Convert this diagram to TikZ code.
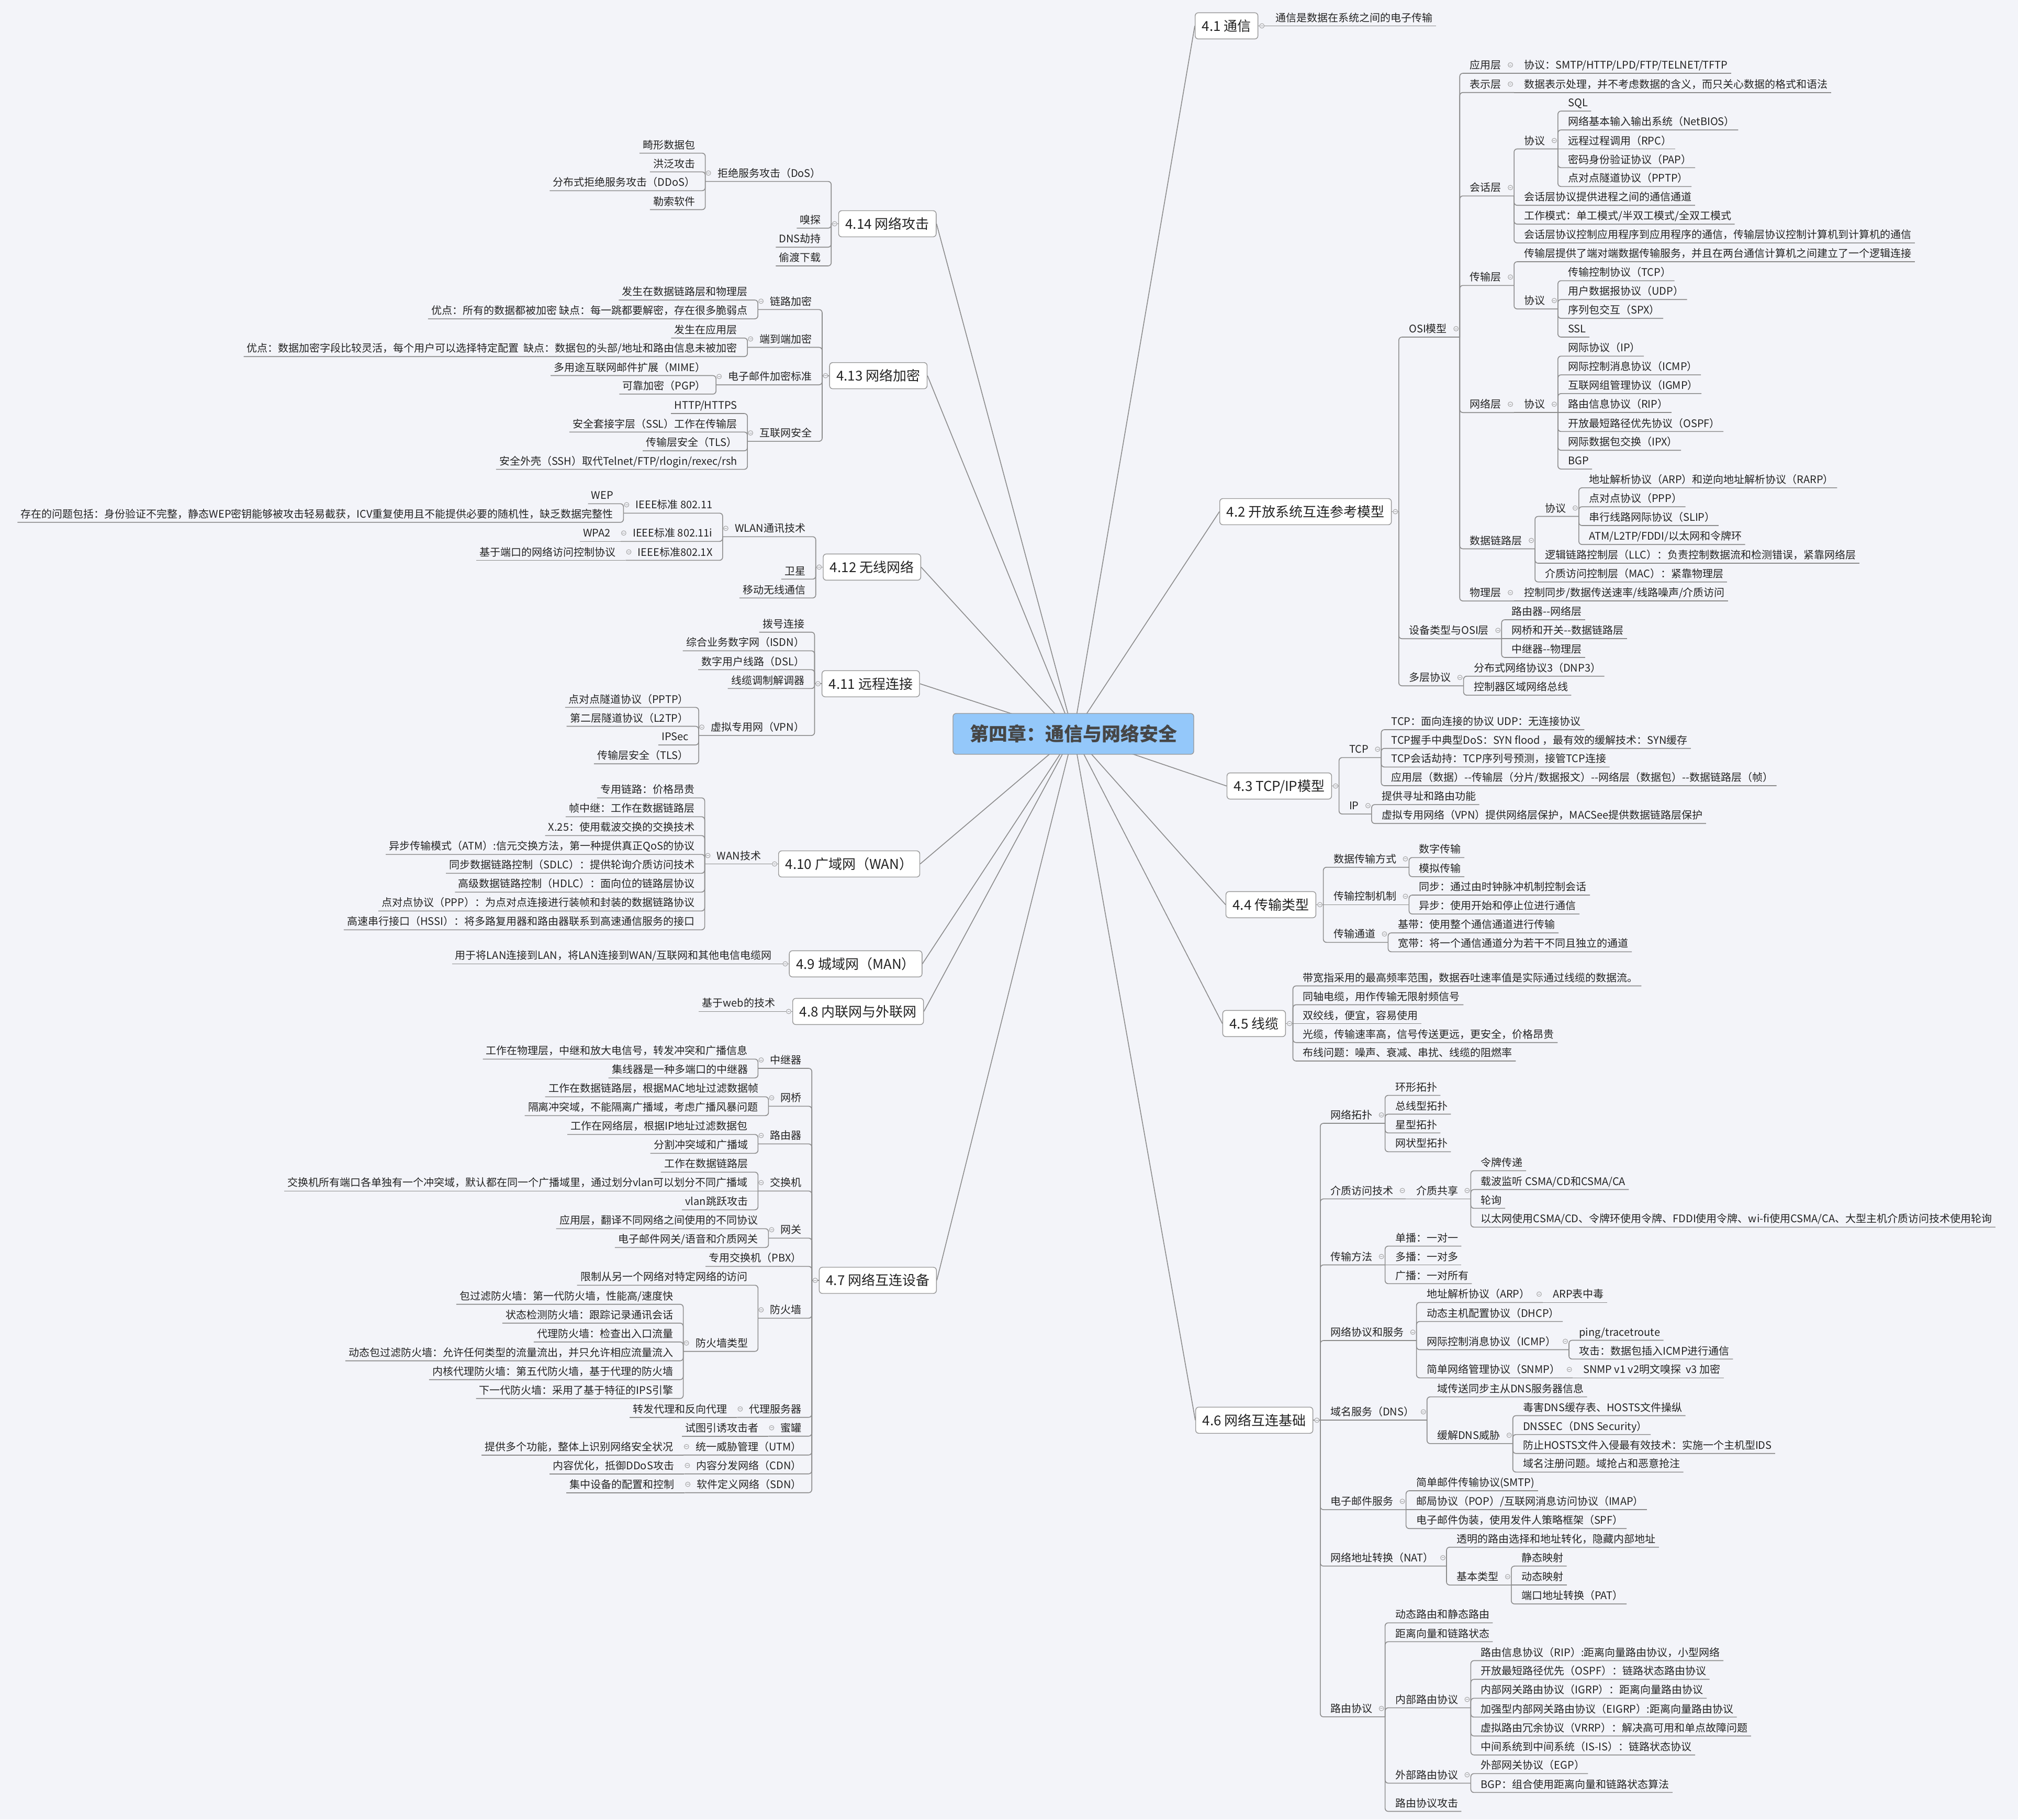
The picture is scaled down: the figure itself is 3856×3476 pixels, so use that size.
\documentclass[tikz,border=0pt]{standalone}
\usepackage{fontspec}
\setmainfont{Noto Sans CJK SC}
\usetikzlibrary{calc}
\pgfdeclarelayer{bg}
\pgfsetlayers{bg,main}
\definecolor{bgc}{RGB}{243,244,249}
\definecolor{lnc}{RGB}{140,140,140}
\definecolor{txc}{RGB}{35,35,35}
\definecolor{ttl}{RGB}{148,200,250}
\definecolor{ttx}{RGB}{70,70,70}
\definecolor{bxc}{RGB}{150,150,150}
\tikzset{
  ln/.style={draw=lnc,line width=0.8pt},
  leaf/.style={inner sep=0pt,text=txc,font=\fontsize{10pt}{12pt}\selectfont,text height=8.3pt,text depth=0.7pt},
  sec/.style={draw=bxc,line width=0.7pt,fill=white,rounded corners=3pt,inner xsep=6.5pt,inner ysep=0pt,minimum height=25pt,text=txc,font=\fontsize{13pt}{15pt}\selectfont,text height=10.8pt,text depth=0.9pt},
  ttlbox/.style={draw=bxc,line width=0.7pt,fill=ttl,rounded corners=3pt,inner xsep=16pt,inner ysep=0pt,minimum height=39pt,text=ttx,font=\fontsize{18pt}{22pt}\selectfont\bfseries,text height=15pt,text depth=1.3pt},
  circ/.style={draw=lnc!80,fill=bgc,line width=0.5pt},
  circm/.style={draw=lnc!80,line width=0.5pt}
}
\newcommand\mmsetY[2]{\expandafter\gdef\csname mmY@#1\endcsname{#2}}
\newcommand\mmgetY[1]{\csname mmY@#1\endcsname}
\newcommand\mmcirc[1]{\draw[circ] (#1) circle[radius=2.2pt]; \draw[circm] ([xshift=-1.2pt]#1) -- ([xshift=1.2pt]#1);}
\newcommand\mmconn[4]{%
  \ifdim#3pt=\mmgetY{#1}pt\relax
    \draw[ln] (#1-x |- #1-u) -- #4;
  \else
    \draw[ln,rounded corners=3pt] (#1-x |- #1-u) -- (#2-u) -- #4;
  \fi}
% right side
\newcommand\mmRL[4]{%
  \mmsetY{#2}{#3}%
  \coordinate (#2-u) at (#1-x |- 0,#3);
  \node[leaf,anchor=west] (#2) at ($(#2-u)+(19,-16)$) {#4};
  \mmconn{#1}{#2}{#3}{($(#2.east |- #2-u)+(6,0)$)}}
\newcommand\mmRP[4]{%
  \mmsetY{#2}{#3}%
  \coordinate (#2-u) at (#1-x |- 0,#3);
  \node[leaf,anchor=west] (#2) at ($(#2-u)+(19,-16)$) {#4};
  \coordinate (#2-x) at ($(#2.east)+(24,0)$);
  \coordinate (#2-c) at ($(#2.east)+(17,0)$);
  \mmconn{#1}{#2}{#3}{(#2-x |- #2-u)}%
  \mmcirc{#2-c}}
% left side
\newcommand\mmLL[4]{%
  \mmsetY{#2}{#3}%
  \coordinate (#2-u) at (#1-x |- 0,#3);
  \node[leaf,anchor=east] (#2) at ($(#2-u)+(-19,-16)$) {#4};
  \mmconn{#1}{#2}{#3}{($(#2.west |- #2-u)+(-6,0)$)}}
\newcommand\mmLP[4]{%
  \mmsetY{#2}{#3}%
  \coordinate (#2-u) at (#1-x |- 0,#3);
  \node[leaf,anchor=east] (#2) at ($(#2-u)+(-19,-16)$) {#4};
  \coordinate (#2-x) at ($(#2.west)+(-23,0)$);
  \coordinate (#2-c) at ($(#2.west)+(-17,0)$);
  \mmconn{#1}{#2}{#3}{(#2-x |- #2-u)}%
  \mmcirc{#2-c}}
% sections
\newcommand\mmSR[4]{%
  \node[sec,anchor=west] (#1) at (#2,#3) {#4};
  \mmsetY{#1}{#3}%
  \coordinate (#1-u) at (#1.east);
  \coordinate (#1-x) at ($(#1.east)+(13.5,0)$);
  \coordinate (#1-c) at ($(#1.east)+(7,0)$);
  \draw[ln] (#1.east) -- (#1-x);
  \mmcirc{#1-c}
  \begin{pgfonlayer}{bg}\draw[ln] (T.center) -- (#1.west);\end{pgfonlayer}}
\newcommand\mmSL[4]{%
  \node[sec,anchor=east] (#1) at (#2,#3) {#4};
  \mmsetY{#1}{#3}%
  \coordinate (#1-u) at (#1.west);
  \coordinate (#1-x) at ($(#1.west)+(-13.5,0)$);
  \coordinate (#1-c) at ($(#1.west)+(-7,0)$);
  \draw[ln] (#1.west) -- (#1-x);
  \mmcirc{#1-c}
  \begin{pgfonlayer}{bg}\draw[ln] (T.center) -- (#1.east);\end{pgfonlayer}}
\begin{document}
\begin{tikzpicture}[x=0.5pt,y=-0.5pt]
\useasboundingbox (0,0) rectangle (3856,3476);
\begin{pgfonlayer}{bg}\fill[bgc] (0,0) rectangle (3856,3476);\end{pgfonlayer}
\node[ttlbox] (T) at (2051,1402) {第四章：通信与网络安全};

% ---------- 4.1
\mmSR{s41}{2283}{49.4}{4.1 通信}
\mmRL{s41}{a1}{49.4}{通信是数据在系统之间的电子传输}

% ---------- 4.2
\mmSR{s42}{2330}{977.5}{4.2 开放系统互连参考模型}
\mmRP{s42}{osi}{644}{OSI模型}
 \mmRP{osi}{o1}{140}{应用层}
  \mmRL{o1}{o1a}{140}{协议：SMTP/HTTP/LPD/FTP/TELNET/TFTP}
 \mmRP{osi}{o2}{176.7}{表示层}
  \mmRL{o2}{o2a}{176.7}{数据表示处理，并不考虑数据的含义，而只关心数据的格式和语法}
 \mmRP{osi}{o3}{374.3}{会话层}
  \mmRP{o3}{o3p}{284.5}{协议}
   \mmRL{o3p}{o3p1}{212.2}{SQL}
   \mmRL{o3p}{o3p2}{248.2}{网络基本输入输出系统（NetBIOS）}
   \mmRL{o3p}{o3p3}{284.5}{远程过程调用（RPC）}
   \mmRL{o3p}{o3p4}{320.4}{密码身份验证协议（PAP）}
   \mmRL{o3p}{o3p5}{356.3}{点对点隧道协议（PPTP）}
  \mmRL{o3}{o3b}{392.2}{会话层协议提供进程之间的通信通道}
  \mmRL{o3}{o3c}{428.2}{工作模式：单工模式/半双工模式/全双工模式}
  \mmRL{o3}{o3d}{464.1}{会话层协议控制应用程序到应用程序的通信，传输层协议控制计算机到计算机的通信}
 \mmRP{osi}{o4}{545.3}{传输层}
  \mmRL{o4}{o4a}{500}{传输层提供了端对端数据传输服务，并且在两台通信计算机之间建立了一个逻辑连接}
  \mmRP{o4}{o4p}{590.2}{协议}
   \mmRL{o4p}{o4p1}{536.3}{传输控制协议（TCP）}
   \mmRL{o4p}{o4p2}{572.2}{用户数据报协议（UDP）}
   \mmRL{o4p}{o4p3}{608.2}{序列包交互（SPX）}
   \mmRL{o4p}{o4p4}{644}{SSL}
 \mmRP{osi}{o5}{788.2}{网络层}
  \mmRP{o5}{o5p}{788.2}{协议}
   \mmRL{o5p}{o5p1}{680.3}{网际协议（IP）}
   \mmRL{o5p}{o5p2}{716.1}{网际控制消息协议（ICMP）}
   \mmRL{o5p}{o5p3}{751.9}{互联网组管理协议（IGMP）}
   \mmRL{o5p}{o5p4}{788.2}{路由信息协议（RIP）}
   \mmRL{o5p}{o5p5}{824.4}{开放最短路径优先协议（OSPF）}
   \mmRL{o5p}{o5p6}{860.2}{网际数据包交换（IPX）}
   \mmRL{o5p}{o5p7}{896.1}{BGP}
 \mmRP{osi}{o6}{1048.5}{数据链路层}
  \mmRP{o6}{o6p}{986.5}{协议}
   \mmRL{o6p}{o6p1}{931.9}{地址解析协议（ARP）和逆向地址解析协议（RARP）}
   \mmRL{o6p}{o6p2}{968.1}{点对点协议（PPP）}
   \mmRL{o6p}{o6p3}{1004}{串行线路网际协议（SLIP）}
   \mmRL{o6p}{o6p4}{1040.2}{ATM/L2TP/FDDI/以太网和令牌环}
  \mmRL{o6}{o6b}{1076}{逻辑链路控制层（LLC）：负责控制数据流和检测错误，紧靠网络层}
  \mmRL{o6}{o6c}{1111.8}{介质访问控制层（MAC）：紧靠物理层}
 \mmRP{osi}{o7}{1148.1}{物理层}
  \mmRL{o7}{o7a}{1148.1}{控制同步/数据传送速率/线路噪声/介质访问}
\mmRP{s42}{g1}{1220.2}{设备类型与OSI层}
 \mmRL{g1}{g1a}{1184}{路由器-{}-网络层}
 \mmRL{g1}{g1b}{1220.2}{网桥和开关-{}-数据链路层}
 \mmRL{g1}{g1c}{1256}{中继器-{}-物理层}
\mmRP{s42}{g2}{1310.2}{多层协议}
 \mmRL{g2}{g2a}{1291.8}{分布式网络协议3（DNP3）}
 \mmRL{g2}{g2b}{1328.1}{控制器区域网络总线}

% ---------- 4.3
\mmSR{s43}{2343.8}{1501.6}{4.3 TCP/IP模型}
\mmRP{s43}{t1}{1447.3}{TCP}
 \mmRL{t1}{t1a}{1394}{TCP：面向连接的协议 UDP：无连接协议}
 \mmRL{t1}{t1b}{1429.7}{TCP握手中典型DoS：SYN flood ，最有效的缓解技术：SYN缓存}
 \mmRL{t1}{t1c}{1465.3}{TCP会话劫持：TCP序列号预测，接管TCP连接}
 \mmRL{t1}{t1d}{1501}{应用层（数据）-{}-传输层（分片/数据报文）-{}-网络层（数据包）-{}-数据链路层（帧）}
\mmRP{s43}{t2}{1555.1}{IP}
 \mmRL{t2}{t2a}{1537.1}{提供寻址和路由功能}
 \mmRL{t2}{t2b}{1573.2}{虚拟专用网络（VPN）提供网络层保护，MACSee提供数据链路层保护}

% ---------- 4.4
\mmSR{s44}{2341.8}{1728.3}{4.4 传输类型}
\mmRP{s44}{u1}{1656.8}{数据传输方式}
 \mmRL{u1}{u1a}{1638.3}{数字传输}
 \mmRL{u1}{u1b}{1674.8}{模拟传输}
\mmRP{s44}{u2}{1728.3}{传输控制机制}
 \mmRL{u2}{u2a}{1710}{同步：通过由时钟脉冲机制控制会话}
 \mmRL{u2}{u2b}{1746.1}{异步：使用开始和停止位进行通信}
\mmRP{s44}{u3}{1800.3}{传输通道}
 \mmRL{u3}{u3a}{1782.2}{基带：使用整个通信通道进行传输}
 \mmRL{u3}{u3b}{1818.3}{宽带：将一个通信通道分为若干不同且独立的通道}

% ---------- 4.5
\mmSR{s45}{2335.7}{1955.4}{4.5 线缆}
\mmRL{s45}{c1}{1883.5}{带宽指采用的最高频率范围，数据吞吐速率值是实际通过线缆的数据流。}
\mmRL{s45}{c2}{1919.5}{同轴电缆，用作传输无限射频信号}
\mmRL{s45}{c3}{1955.4}{双绞线，便宜，容易使用}
\mmRL{s45}{c4}{1991.7}{光缆，传输速率高，信号传送更远，更安全，价格昂贵}
\mmRL{s45}{c5}{2027}{布线问题：噪声、衰减、串扰、线缆的阻燃率}

% ---------- 4.6
\mmSR{s46}{2284}{2713.2}{4.6 网络互连基础}
\mmRP{s46}{f1}{2146}{网络拓扑}
 \mmRL{f1}{f1a}{2092.6}{环形拓扑}
 \mmRL{f1}{f1b}{2128.5}{总线型拓扑}
 \mmRL{f1}{f1c}{2164.4}{星型拓扑}
 \mmRL{f1}{f1d}{2200.3}{网状型拓扑}
\mmRP{s46}{f2}{2290.4}{介质访问技术}
 \mmRP{f2}{f2p}{2290.4}{介质共享}
  \mmRL{f2p}{f2a}{2236.6}{令牌传递}
  \mmRL{f2p}{f2b}{2272.5}{载波监听 CSMA/CD和CSMA/CA}
  \mmRL{f2p}{f2c}{2308.4}{轮询}
  \mmRL{f2p}{f2d}{2344.3}{以太网使用CSMA/CD、令牌环使用令牌、FDDI使用令牌、wi-fi使用CSMA/CA、大型主机介质访问技术使用轮询}
\mmRP{s46}{f3}{2416.5}{传输方法}
 \mmRL{f3}{f3a}{2380.6}{单播：一对一}
 \mmRL{f3}{f3b}{2416.5}{多播：一对多}
 \mmRL{f3}{f3c}{2452.4}{广播：一对所有}
\mmRP{s46}{f4}{2561}{网络协议和服务}
 \mmRP{f4}{f4a}{2488.3}{地址解析协议（ARP）}
  \mmRL{f4a}{f4a1}{2488.3}{ARP表中毒}
 \mmRL{f4}{f4b}{2524.6}{动态主机配置协议（DHCP）}
 \mmRP{f4}{f4c}{2578.5}{网际控制消息协议（ICMP）}
  \mmRL{f4c}{f4c1}{2560.5}{ping/tracetroute}
  \mmRL{f4c}{f4c2}{2596.4}{攻击：数据包插入ICMP进行通信}
 \mmRP{f4}{f4d}{2632.3}{简单网络管理协议（SNMP）}
  \mmRL{f4d}{f4d1}{2632.3}{SNMP v1 v2明文嗅探\ \ v3 加密}
\mmRP{s46}{f5}{2713.2}{域名服务（DNS）}
 \mmRL{f5}{f5a}{2668.6}{域传送同步主从DNS服务器信息}
 \mmRP{f5}{f5b}{2757.9}{缓解DNS威胁}
  \mmRL{f5b}{f5b1}{2704.5}{毒害DNS缓存表、HOSTS文件操纵}
  \mmRL{f5b}{f5b2}{2740.6}{DNSSEC（DNS Security）}
  \mmRL{f5b}{f5b3}{2776.7}{防止HOSTS文件入侵最有效技术：实施一个主机型IDS}
  \mmRL{f5b}{f5b4}{2812.3}{域名注册问题。域抢占和恶意抢注}
\mmRP{s46}{f6}{2884.1}{电子邮件服务}
 \mmRL{f6}{f6a}{2848}{简单邮件传输协议(SMTP)}
 \mmRL{f6}{f6b}{2884.1}{邮局协议（POP）/互联网消息访问协议（IMAP）}
 \mmRL{f6}{f6c}{2920.2}{电子邮件伪装，使用发件人策略框架（SPF）}
\mmRP{s46}{f7}{2991.9}{网络地址转换（NAT）}
 \mmRL{f7}{f7a}{2955.8}{透明的路由选择和地址转化，隐藏内部地址}
 \mmRP{f7}{f7b}{3028.1}{基本类型}
  \mmRL{f7b}{f7b1}{2991.9}{静态映射}
  \mmRL{f7b}{f7b2}{3028.1}{动态映射}
  \mmRL{f7b}{f7b3}{3064.2}{端口地址转换（PAT）}
\mmRP{s46}{f8}{3279.9}{路由协议}
 \mmRL{f8}{f8a}{3100.3}{动态路由和静态路由}
 \mmRL{f8}{f8b}{3136.4}{距离向量和链路状态}
 \mmRP{f8}{f8c}{3262.6}{内部路由协议}
  \mmRL{f8c}{f8c1}{3172.5}{路由信息协议（RIP）:距离向量路由协议，小型网络}
  \mmRL{f8c}{f8c2}{3208.2}{开放最短路径优先（OSPF）：链路状态路由协议}
  \mmRL{f8c}{f8c3}{3244.3}{内部网关路由协议（IGRP）：距离向量路由协议}
  \mmRL{f8c}{f8c4}{3280.4}{加强型内部网关路由协议（EIGRP）:距离向量路由协议}
  \mmRL{f8c}{f8c5}{3316.5}{虚拟路由冗余协议（VRRP）：解决高可用和单点故障问题}
  \mmRL{f8c}{f8c6}{3352.7}{中间系统到中间系统（IS-IS）：链路状态协议}
 \mmRP{f8}{f8d}{3406.6}{外部路由协议}
  \mmRL{f8d}{f8d1}{3388.3}{外部网关协议（EGP）}
  \mmRL{f8d}{f8d2}{3424.4}{BGP：组合使用距离向量和链路状态算法}
 \mmRL{f8}{f8e}{3460.5}{路由协议攻击}

% ---------- 4.14
\mmSL{s414}{1789.5}{427.5}{4.14 网络攻击}
\mmLP{s414}{k1}{346.6}{拒绝服务攻击（DoS）}
 \mmLL{k1}{k1a}{292.6}{畸形数据包}
 \mmLL{k1}{k1b}{328.4}{洪泛攻击}
 \mmLL{k1}{k1c}{364.3}{分布式拒绝服务攻击（DDoS）}
 \mmLL{k1}{k1d}{400.5}{勒索软件}
\mmLL{s414}{k2}{435.9}{嗅探}
\mmLL{s414}{k3}{472.2}{DNS劫持}
\mmLL{s414}{k4}{508}{偷渡下载}

% ---------- 4.13
\mmSL{s413}{1772.2}{717.7}{4.13 网络加密}
\mmLP{s413}{e1}{591.4}{链路加密}
 \mmLL{e1}{e1a}{573.2}{发生在数据链路层和物理层}
 \mmLL{e1}{e1b}{609.1}{优点：所有的数据都被加密 缺点：每一跳都要解密，存在很多脆弱点}
\mmLP{s413}{e2}{663.5}{端到端加密}
 \mmLL{e2}{e2a}{645.8}{发生在应用层}
 \mmLL{e2}{e2b}{681.2}{优点：数据加密字段比较灵活，每个用户可以选择特定配置\ \ 缺点：数据包的头部/地址和路由信息未被加密}
\mmLP{s413}{e3}{735.2}{电子邮件加密标准}
 \mmLL{e3}{e3a}{717.5}{多用途互联网邮件扩展（MIME）}
 \mmLL{e3}{e3b}{752.9}{可靠加密（PGP）}
\mmLP{s413}{e4}{843.1}{互联网安全}
 \mmLL{e4}{e4a}{790}{HTTP/HTTPS}
 \mmLL{e4}{e4b}{825.4}{安全套接字层（SSL）工作在传输层}
 \mmLL{e4}{e4c}{861.2}{传输层安全（TLS）}
 \mmLL{e4}{e4d}{896.6}{安全外壳（SSH）取代Telnet/FTP/rlogin/rexec/rsh}

% ---------- 4.12
\mmSL{s412}{1760}{1083.4}{4.12 无线网络}
\mmLP{s412}{w1}{1025.3}{WLAN通讯技术}
 \mmLP{w1}{w11}{980.3}{IEEE标准 802.11}
  \mmLL{w11}{w11a}{962.3}{WEP}
  \mmLL{w11}{w11b}{997.9}{存在的问题包括：身份验证不完整，静态WEP密钥能够被攻击轻易截获，ICV重复使用且不能提供必要的随机性，缺乏数据完整性}
 \mmLP{w1}{w12}{1034.3}{IEEE标准 802.11i}
  \mmLL{w12}{w12a}{1034.3}{WPA2}
 \mmLP{w1}{w13}{1070.4}{IEEE标准802.1X}
  \mmLL{w13}{w13a}{1070.4}{基于端口的网络访问控制协议}
\mmLL{s412}{w2}{1106.4}{卫星}
\mmLL{s412}{w3}{1142.4}{移动无线通信}

% ---------- 4.11
\mmSL{s411}{1757.7}{1306.2}{4.11 远程连接}
\mmLL{s411}{v1}{1207.7}{拨号连接}
\mmLL{s411}{v2}{1243.3}{综合业务数字网（ISDN）}
\mmLL{s411}{v3}{1279.4}{数字用户线路（DSL）}
\mmLL{s411}{v4}{1315.4}{线缆调制解调器}
\mmLP{s411}{v5}{1405.1}{虚拟专用网（VPN）}
 \mmLL{v5}{v5a}{1351.4}{点对点隧道协议（PPTP）}
 \mmLL{v5}{v5b}{1387.5}{第二层隧道协议（L2TP）}
 \mmLL{v5}{v5c}{1423.2}{IPSec}
 \mmLL{v5}{v5d}{1459.2}{传输层安全（TLS）}

% ---------- 4.10
\mmSL{s410}{1758.2}{1650.5}{4.10 广域网（WAN）}
\mmLP{s410}{n1}{1650.5}{WAN技术}
 \mmLL{n1}{n1a}{1524.3}{专用链路：价格昂贵}
 \mmLL{n1}{n1b}{1560.3}{帧中继：工作在数据链路层}
 \mmLL{n1}{n1c}{1596.3}{X.25：使用载波交换的交换技术}
 \mmLL{n1}{n1d}{1632.3}{异步传输模式（ATM）:信元交换方法，第一种提供真正QoS的协议}
 \mmLL{n1}{n1e}{1668.3}{同步数据链路控制（SDLC）：提供轮询介质访问技术}
 \mmLL{n1}{n1f}{1704.3}{高级数据链路控制（HDLC）：面向位的链路层协议}
 \mmLL{n1}{n1g}{1740.3}{点对点协议（PPP）：为点对点连接进行装帧和封装的数据链路协议}
 \mmLL{n1}{n1h}{1776.3}{高速串行接口（HSSI）：将多路复用器和路由器联系到高速通信服务的接口}

% ---------- 4.9, 4.8
\mmSL{s49}{1762.5}{1841.3}{4.9 城域网（MAN）}
\mmLL{s49}{m1}{1841.3}{用于将LAN连接到LAN，将LAN连接到WAN/互联网和其他电信电缆网}
\mmSL{s48}{1765.3}{1932.3}{4.8 内联网与外联网}
\mmLL{s48}{i1}{1932.3}{基于web的技术}

% ---------- 4.7
\mmSL{s47}{1790}{2446}{4.7 网络互连设备}
\mmLP{s47}{d1}{2041}{中继器}
 \mmLL{d1}{d1a}{2023.3}{工作在物理层，中继和放大电信号，转发冲突和广播信息}
 \mmLL{d1}{d1b}{2059.3}{集线器是一种多端口的中继器}
\mmLP{s47}{d2}{2113.3}{网桥}
 \mmLL{d2}{d2a}{2095.3}{工作在数据链路层，根据MAC地址过滤数据帧}
 \mmLL{d2}{d2b}{2131.3}{隔离冲突域，不能隔离广播域，考虑广播风暴问题}
\mmLP{s47}{d3}{2185.3}{路由器}
 \mmLL{d3}{d3a}{2167.3}{工作在网络层，根据IP地址过滤数据包}
 \mmLL{d3}{d3b}{2203.3}{分割冲突域和广播域}
\mmLP{s47}{d4}{2275.3}{交换机}
 \mmLL{d4}{d4a}{2239.3}{工作在数据链路层}
 \mmLL{d4}{d4b}{2275.3}{交换机所有端口各单独有一个冲突域，默认都在同一个广播域里，通过划分vlan可以划分不同广播域}
 \mmLL{d4}{d4c}{2311.3}{vlan跳跃攻击}
\mmLP{s47}{d5}{2365.3}{网关}
 \mmLL{d5}{d5a}{2347.3}{应用层，翻译不同网络之间使用的不同协议}
 \mmLL{d5}{d5b}{2383.3}{电子邮件网关/语音和介质网关}
\mmLL{s47}{d6}{2419.3}{专用交换机（PBX）}
\mmLP{s47}{d7}{2518.3}{防火墙}
 \mmLL{d7}{d7a}{2455.3}{限制从另一个网络对特定网络的访问}
 \mmLP{d7}{d7b}{2581.7}{防火墙类型}
  \mmLL{d7b}{d7b1}{2491.7}{包过滤防火墙：第一代防火墙，性能高/速度快}
  \mmLL{d7b}{d7b2}{2527.7}{状态检测防火墙：跟踪记录通讯会话}
  \mmLL{d7b}{d7b3}{2563.7}{代理防火墙：检查出入口流量}
  \mmLL{d7b}{d7b4}{2599.7}{动态包过滤防火墙：允许任何类型的流量流出，并只允许相应流量流入}
  \mmLL{d7b}{d7b5}{2635.7}{内核代理防火墙：第五代防火墙，基于代理的防火墙}
  \mmLL{d7b}{d7b6}{2671.7}{下一代防火墙：采用了基于特征的IPS引擎}
\mmLP{s47}{d8}{2707.7}{代理服务器}
 \mmLL{d8}{d8a}{2707.7}{转发代理和反向代理}
\mmLP{s47}{d9}{2743.7}{蜜罐}
 \mmLL{d9}{d9a}{2743.7}{试图引诱攻击者}
\mmLP{s47}{d10}{2779.7}{统一威胁管理（UTM）}
 \mmLL{d10}{d10a}{2779.7}{提供多个功能，整体上识别网络安全状况}
\mmLP{s47}{d11}{2815.7}{内容分发网络（CDN）}
 \mmLL{d11}{d11a}{2815.7}{内容优化，抵御DDoS攻击}
\mmLP{s47}{d12}{2851.7}{软件定义网络（SDN）}
 \mmLL{d12}{d12a}{2851.7}{集中设备的配置和控制}
\end{tikzpicture}
\end{document}
